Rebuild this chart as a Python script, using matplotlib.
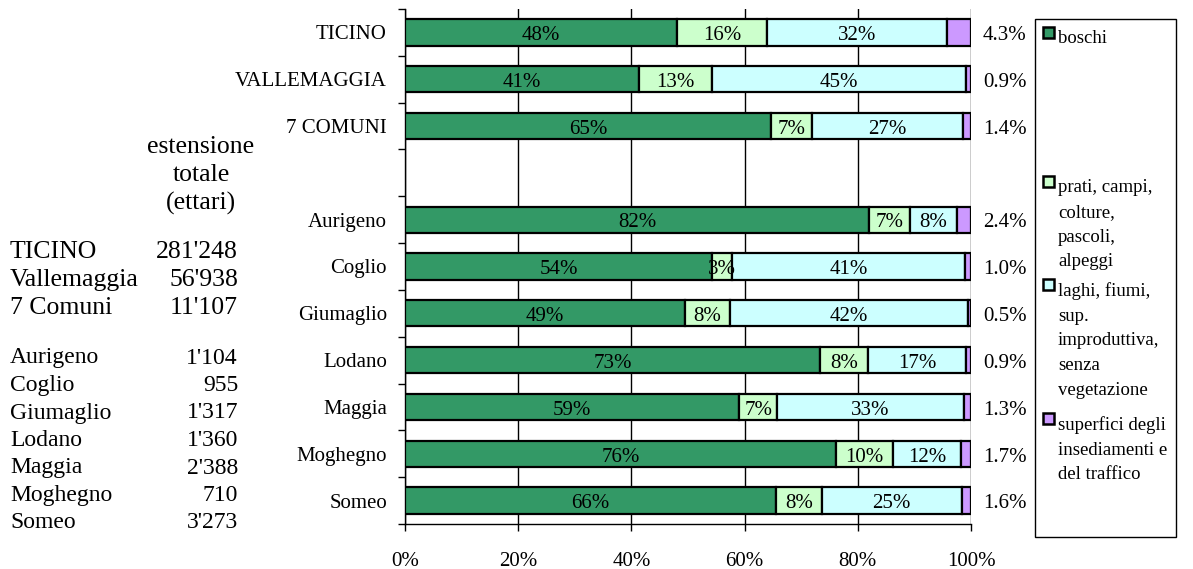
import numpy as np
import matplotlib
matplotlib.use("Agg")
from matplotlib import pyplot as plt
from matplotlib.patches import Rectangle

plt.rcParams['font.family'] = ['Liberation Serif', 'DejaVu Serif']

# chart rows (blank row separates totals from the comuni)
categories = ["TICINO", "VALLEMAGGIA", "7 COMUNI", "", "Aurigeno", "Coglio",
              "Giumaglio", "Lodano", "Maggia", "Moghegno", "Someo"]
boschi = [48.0, 41.3, 64.6, np.nan, 82.0, 54.3, 49.4, 73.4, 59.0, 76.2, 65.6]
prati = [16.0, 13.0, 7.3, np.nan, 7.2, 3.4, 8.0, 8.4, 6.8, 10.0, 8.0]
laghi = [31.7, 44.8, 26.7, np.nan, 8.4, 41.3, 42.1, 17.3, 32.9, 12.1, 24.8]
superfici = [4.3, 0.9, 1.4, np.nan, 2.4, 1.0, 0.5, 0.9, 1.3, 1.7, 1.6]

series_names = ["boschi",
                "prati, campi,\ncolture,\npascoli,\nalpeggi",
                "laghi, fiumi,\nsup.\nimproduttiva,\nsenza\nvegetazione",
                "superfici degli\ninsediamenti e\ndel traffico"]
colors = ["#339966", "#CCFFCC", "#CCFFFF", "#CC99FF"]

# left table: total area in hectares
tab_top_names = ["TICINO", "Vallemaggia", "7 Comuni"]
tab_top_vals = [281248, 56938, 11107]
tab_com_names = ["Aurigeno", "Coglio", "Giumaglio", "Lodano", "Maggia", "Moghegno", "Someo"]
tab_com_vals = [1104, 955, 1317, 1360, 2388, 710, 3273]

W, H = 1193, 569
fig = plt.figure(figsize=(W / 100, H / 100), dpi=100)


def px(x, y):
    return x / W, 1 - y / H


ax_l, ax_r, ax_t, ax_b = 405, 971, 9, 524
ax = fig.add_axes([ax_l / W, 1 - ax_b / H, (ax_r - ax_l) / W, (ax_b - ax_t) / H])

y = np.arange(len(categories))
left = np.zeros(len(categories))
for vals, col in zip([boschi, prati, laghi, superfici], colors):
    vals = np.array(vals)
    ax.barh(y, vals, left=left, height=0.56, color=col, edgecolor="black",
            linewidth=1.6, zorder=3)
    left = left + np.nan_to_num(vals)

# labels inside the first three segments
starts = np.zeros(len(categories))
for i, vals in enumerate([boschi, prati, laghi]):
    for j, v in enumerate(vals):
        if np.isnan(v):
            continue
        ax.text(starts[j] + v / 2, j + 0.07, "%d%%" % round(v), ha="center", va="center",
                fontsize=15, zorder=5)
    starts = starts + np.nan_to_num(np.array(vals))

# superfici labels to the right of the bars
for j, v in enumerate(superfici):
    if np.isnan(v):
        continue
    ax.text(106.0, j + 0.07, "%.1f%%" % v, ha="center", va="center", fontsize=15,
            clip_on=False)

ax.set_xlim(0, 100)
ax.set_ylim(len(categories) - 0.5, -0.5)
ax.set_xticks(np.arange(0, 101, 20))
ax.set_xticklabels(["%d%%" % t for t in range(0, 101, 20)], fontsize=15)
ax.tick_params(axis="x", length=5, width=1, pad=15, direction="out")
ax.xaxis.grid(True, color="black", linewidth=1, zorder=0)

ax.set_yticks(y)
ax.set_yticklabels(categories, fontsize=15)
ax.set_yticks(np.arange(-0.5, len(categories)), minor=True)
ax.tick_params(axis="y", which="major", length=0, pad=13)
ax.tick_params(axis="y", which="minor", length=5, width=1, direction="out")

for s in ["top", "right"]:
    ax.spines[s].set_visible(False)
ax.spines["left"].set_linewidth(1)
ax.spines["bottom"].set_linewidth(1)

# left table
for txt, yy in zip(["estensione", "totale", "(ettari)"], [147, 175, 203]):
    fig.text(*px(201, yy), txt, ha="center", va="center", fontsize=18.5)


def fmt(v):
    return "{:,}".format(v).replace(",", "'")


for k, (n, v) in enumerate(zip(tab_top_names, tab_top_vals)):
    yy = 252 + k * 28
    fig.text(*px(10, yy), n, ha="left", va="center", fontsize=18.5)
    fig.text(*px(238, yy), fmt(v), ha="right", va="center", fontsize=18.5)
for k, (n, v) in enumerate(zip(tab_com_names, tab_com_vals)):
    yy = 358 + k * 27.5
    fig.text(*px(10, yy), n, ha="left", va="center", fontsize=17)
    fig.text(*px(238, yy), fmt(v), ha="right", va="center", fontsize=17)

# legend box drawn by hand like the Excel one
box_x0, box_y0, box_x1, box_y1 = 1035, 19, 1176, 537
fig.patches.append(Rectangle(px(box_x0, box_y1), (box_x1 - box_x0) / W,
                             (box_y1 - box_y0) / H, transform=fig.transFigure,
                             facecolor="white", edgecolor="black", linewidth=1))
leg_y = [41, 190, 293, 427]
for name, col, yy in zip(series_names, colors, leg_y):
    fig.patches.append(Rectangle(px(1043, yy - 3), 11 / W, 11 / H, transform=fig.transFigure,
                                 facecolor=col, edgecolor="black", linewidth=1.8))
    fig.text(*px(1058, yy - 11), name, ha="left", va="top", fontsize=13.5,
             linespacing=1.6)

fig.savefig("out.png", dpi=100)
